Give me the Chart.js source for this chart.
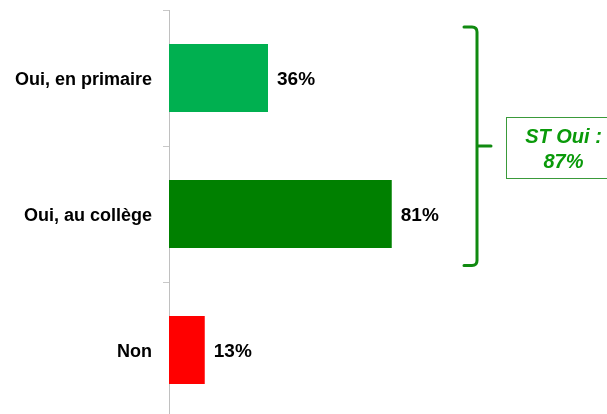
<!DOCTYPE html>
<html>
<head>
<meta charset="utf-8">
<script src="https://cdn.jsdelivr.net/npm/chart.js@4/dist/chart.umd.min.js"></script>
<style>
html,body{margin:0;padding:0;background:#fff;overflow:hidden;}
#wrap{position:relative;width:607px;height:418px;}
</style>
</head>
<body>
<div id="wrap"><canvas id="c"></canvas></div>
<script>
const categories = ["Oui, en primaire", "Oui, au collège", "Non"];
const values = [36, 81, 13];
const barColors = ["#00B050", "#008000", "#FF0000"];
const summaryLines = ["ST Oui :", "87%"];

const FONT = "'Liberation Sans', Arial, sans-serif";

const valueLabels = {
  id: 'valueLabels',
  afterDatasetsDraw(chart) {
    const ctx = chart.ctx;
    const meta = chart.getDatasetMeta(0);
    ctx.save();
    ctx.font = "bold 19px " + FONT;
    ctx.fillStyle = "#000";
    ctx.textAlign = "left";
    ctx.textBaseline = "middle";
    meta.data.forEach((bar, i) => {
      ctx.fillText(values[i] + "%", bar.x + 9, bar.y + 2);
    });
    ctx.restore();
  }
};

const bracket = {
  id: 'bracket',
  afterDraw(chart) {
    const ctx = chart.ctx;
    const ys = chart.scales.y;
    const yA = ys.getPixelForValue(0);
    const yB = ys.getPixelForValue(1);
    const top = yA - 51, bottom = yB + 51.5, mid = (yA + yB) / 2;
    const xv = chart.chartArea.right + 33;
    ctx.save();
    ctx.strokeStyle = "#108a10";
    ctx.lineWidth = 3;
    ctx.lineCap = "round";
    ctx.beginPath();
    ctx.moveTo(xv - 13, top);
    ctx.lineTo(xv - 5, top);
    ctx.quadraticCurveTo(xv, top, xv, top + 5);
    ctx.lineTo(xv, bottom - 5);
    ctx.quadraticCurveTo(xv, bottom, xv - 5, bottom);
    ctx.lineTo(xv - 13, bottom);
    ctx.moveTo(xv, mid);
    ctx.lineTo(xv + 14, mid);
    ctx.stroke();

    // summary box
    const bx = chart.chartArea.right + 62.5;
    const by = mid - 28.5;
    ctx.lineWidth = 1;
    ctx.strokeStyle = "#3a9a3a";
    ctx.strokeRect(bx, by, 120, 61);
    ctx.fillStyle = "#0a9a0a";
    ctx.font = "italic bold 20px " + FONT;
    ctx.textAlign = "center";
    ctx.textBaseline = "alphabetic";
    const cx = bx + 57;
    ctx.fillText(summaryLines[0], cx, by + 25);
    ctx.fillText(summaryLines[1], cx, by + 50);
    ctx.restore();
  }
};

new Chart(document.getElementById('c'), {
  type: 'bar',
  data: {
    labels: categories,
    datasets: [{
      data: values,
      backgroundColor: barColors,
      borderWidth: 0,
      categoryPercentage: 1.0,
      barPercentage: 0.5
    }]
  },
  options: {
    indexAxis: 'y',
    responsive: true,
    maintainAspectRatio: false,
    animation: false,
    layout: { padding: { left: 0, right: 163, top: 10, bottom: 0 } },
    plugins: { legend: { display: false }, tooltip: { enabled: false } },
    scales: {
      x: { display: false, min: 0, max: 100 },
      y: {
        afterFit(scale) { scale.width = 169; scale.paddingTop = 0; scale.paddingBottom = 0; },
        grid: {
          display: true,
          drawOnChartArea: false,
          drawTicks: true,
          tickLength: 6,
          color: "#c8c8c8",
          offset: true
        },
        border: { display: true, color: "#c0c0c0", width: 1 },
        ticks: {
          color: "#000",
          padding: 11,
          labelOffset: 2,
          font: { family: FONT, size: 18, weight: 'bold' }
        }
      }
    }
  },
  plugins: [valueLabels, bracket]
});
</script>
</body>
</html>
